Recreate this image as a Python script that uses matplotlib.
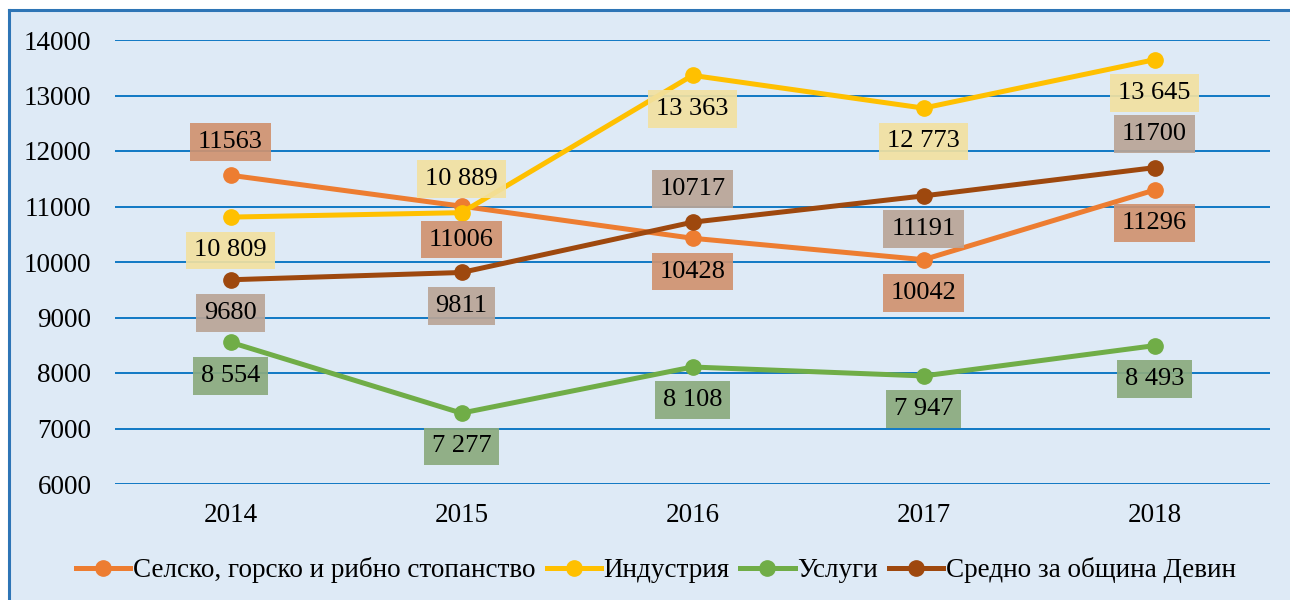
import matplotlib.pyplot as plt
import matplotlib.patches as patches
from matplotlib.lines import Line2D

COLORS = {
    'panel_bg': '#DEEAF6',
    'panel_border': '#2E75B6',
    'grid': '#0070C0',
    'text': '#000000',
    'agri': '#ED7D31',
    'industry': '#FFC000',
    'services': '#70AD47',
    'average': '#9E480E',
    'agri_box': '#D09270',
    'industry_box': '#F2E1A0',
    'services_box': '#8BAA7E',
    'average_box': '#BAA597',
}

years = ["2014", "2015", "2016", "2017", "2018"]
series_names = ["Селско, горско и рибно стопанство", "Индустрия", "Услуги", "Средно за община Девин"]
agri = [11563, 11006, 10428, 10042, 11296]
industry = [10809, 10889, 13363, 12773, 13645]
services = [8554, 7277, 8108, 7947, 8493]
average = [9680, 9811, 10717, 11191, 11700]
agri_labels = ["11563", "11006", "10428", "10042", "11296"]
industry_labels = ["10 809", "10 889", "13 363", "12 773", "13 645"]
services_labels = ["8 554", "7 277", "8 108", "7 947", "8 493"]
average_labels = ["9680", "9811", "10717", "11191", "11700"]
y_ticks = [6000, 7000, 8000, 9000, 10000, 11000, 12000, 13000, 14000]

# label above (+1) or below (-1) each point
agri_side = [1, -1, -1, -1, -1]
industry_side = [-1, 1, -1, -1, -1]
services_side = [-1, -1, -1, -1, -1]
average_side = [-1, -1, 1, -1, 1]


def draw_series(ax, values, labels, sides, color, box_color, name):
    x = list(range(len(values)))
    ax.plot(x, values, color=color, lw=3.6, marker='o', markersize=11,
            solid_capstyle='round', zorder=3, label=name)
    for xi, v, lab, s in zip(x, values, labels, sides):
        ax.annotate(lab, xy=(xi, v), xytext=(0, 24 * s), textcoords='offset points',
                    ha='center', va='center', fontsize=19, color=COLORS['text'],
                    bbox=dict(boxstyle='square,pad=0.3', facecolor=box_color,
                              edgecolor='none', alpha=0.92),
                    zorder=5)


def draw_chart(save_path="out.png"):
    plt.rcParams['font.family'] = ['Liberation Serif', 'DejaVu Serif']
    fig = plt.figure(figsize=(12.9, 6), dpi=100, facecolor='white')

    # panel background and its left / top border, running off the right and bottom edges
    left, top = 9 / 1290, 1 - 10 / 600
    fig.patches.append(patches.Rectangle((left, -0.05), 1.1, top + 0.05, transform=fig.transFigure,
                                         facecolor=COLORS['panel_bg'], edgecolor='none', zorder=-5))
    fig.lines.append(Line2D([left, left], [-0.05, top], transform=fig.transFigure,
                            color=COLORS['panel_border'], lw=2.2, zorder=-4))
    fig.lines.append(Line2D([left, 1.05], [top, top], transform=fig.transFigure,
                            color=COLORS['panel_border'], lw=2.2, zorder=-4))

    ax = fig.add_axes([115 / 1290, 1 - 484 / 600, 1155 / 1290, 444 / 600])
    ax.set_facecolor('none')
    ax.set_xlim(-0.5, len(years) - 0.5)
    ax.set_ylim(6000, 14000)
    ax.set_yticks(y_ticks)
    ax.set_xticks(range(len(years)))
    ax.set_xticklabels(years)
    ax.tick_params(axis='both', length=0, labelsize=19.5)
    ax.tick_params(axis='y', pad=17)
    ax.tick_params(axis='x', pad=14)
    ax.grid(axis='y', color=COLORS['grid'], lw=1.3, zorder=1)
    ax.set_axisbelow(True)
    for sp in ax.spines.values():
        sp.set_visible(False)

    draw_series(ax, agri, agri_labels, agri_side, COLORS['agri'], COLORS['agri_box'], series_names[0])
    draw_series(ax, industry, industry_labels, industry_side, COLORS['industry'], COLORS['industry_box'], series_names[1])
    draw_series(ax, services, services_labels, services_side, COLORS['services'], COLORS['services_box'], series_names[2])
    draw_series(ax, average, average_labels, average_side, COLORS['average'], COLORS['average_box'], series_names[3])

    handles = [Line2D([], [], color=c, lw=3.6, marker='o', markersize=11)
               for c in [COLORS['agri'], COLORS['industry'], COLORS['services'], COLORS['average']]]
    fig.legend(handles, series_names, loc='center', bbox_to_anchor=(656 / 1290, 1 - 570 / 600),
               ncol=4, frameon=False, fontsize=19.5, handlelength=2.0, handletextpad=0.1,
               columnspacing=0.4)

    plt.savefig(save_path, dpi=100)
    plt.close()


if __name__ == "__main__":
    draw_chart()
